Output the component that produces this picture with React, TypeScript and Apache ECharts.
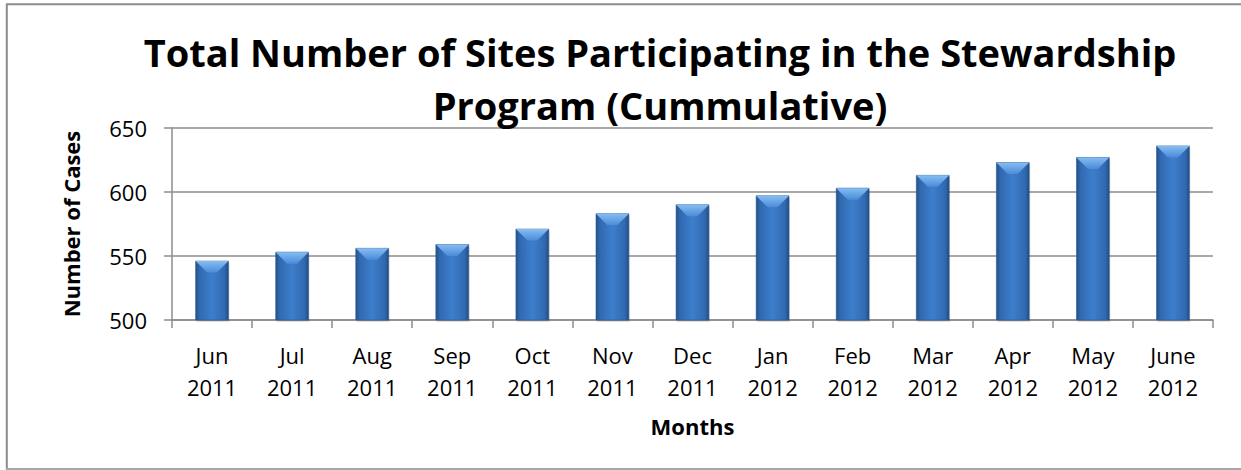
import React, { useEffect, useRef } from "react";
import * as echarts from "echarts";

const categories = [
  "Jun\n2011", "Jul\n2011", "Aug\n2011", "Sep\n2011", "Oct\n2011", "Nov\n2011",
  "Dec\n2011", "Jan\n2012", "Feb\n2012", "Mar\n2012", "Apr\n2012", "May\n2012", "June\n2012",
];
const siteCounts = [546, 553, 556, 559, 571, 583, 590, 597, 603, 613, 623, 627, 636];
const yMin = 500;
const yMax = 650;
const yInterval = 50;

const titleText = "Total Number of Sites Participating in the Stewardship\nProgram (Cummulative)";
const xAxisName = "Months";
const yAxisName = "Number of Cases";

const FONT = "'Open Sans', 'Noto Sans', sans-serif";
const GRAY = "#8C8C8C";

export default function App() {
  const ref = useRef<HTMLDivElement>(null);

  useEffect(() => {
    if (!ref.current) return;
    const chart = echarts.init(ref.current, undefined, { renderer: "svg" });

    const bodyFill = new echarts.graphic.LinearGradient(0, 0, 1, 0, [
      { offset: 0, color: "#24508A" },
      { offset: 0.12, color: "#3169B0" },
      { offset: 0.5, color: "#3D7ECC" },
      { offset: 0.88, color: "#3169B0" },
      { offset: 1, color: "#224C84" },
    ]);
    const bevelFill = new echarts.graphic.LinearGradient(0, 0, 0, 1, [
      { offset: 0, color: "#86BDF2" },
      { offset: 1, color: "#4A8BD8" },
    ]);

    chart.setOption({
      animation: false,
      backgroundColor: "#ffffff",
      title: {
        text: titleText,
        left: 655,
        top: 20,
        textAlign: "center",
        textStyle: {
          fontFamily: FONT,
          fontWeight: "bold",
          fontSize: 38,
          lineHeight: 53,
          color: "#000000",
        },
      },
      graphic: [
        { type: "line", shape: { x1: 6.8, y1: 4.3, x2: 6.8, y2: 470 }, style: { stroke: GRAY, lineWidth: 2 } },
        { type: "line", shape: { x1: 6, y1: 4.3, x2: 1241, y2: 4.3 }, style: { stroke: GRAY, lineWidth: 2 } },
        { type: "line", shape: { x1: 6, y1: 469, x2: 1241, y2: 469 }, style: { stroke: "#A6A6A6", lineWidth: 2 } },
      ],
      grid: { left: 172, right: 28, top: 128, bottom: 150, containLabel: false },
      xAxis: {
        type: "category",
        data: categories,
        name: xAxisName,
        nameLocation: "middle",
        nameGap: 95,
        nameTextStyle: { fontFamily: FONT, fontWeight: "bold", fontSize: 22, color: "#000" },
        axisLine: { show: true, lineStyle: { color: GRAY, width: 1.5 } },
        axisTick: { show: true, length: 8, interval: 0, lineStyle: { color: GRAY, width: 1.5 } },
        axisLabel: {
          interval: 0,
          margin: 19,
          fontFamily: FONT,
          fontSize: 22,
          lineHeight: 32,
          color: "#000",
        },
        splitLine: { show: false },
      },
      yAxis: {
        type: "value",
        min: yMin,
        max: yMax,
        interval: yInterval,
        name: yAxisName,
        nameLocation: "middle",
        nameGap: 90,
        nameRotate: 90,
        nameTextStyle: { fontFamily: FONT, fontWeight: "bold", fontSize: 22, color: "#000" },
        axisLine: { show: true, lineStyle: { color: GRAY, width: 1.5 } },
        axisTick: { show: true, length: 8, lineStyle: { color: GRAY, width: 1.5 } },
        axisLabel: { margin: 25, fontFamily: FONT, fontSize: 22, color: "#000" },
        splitLine: { show: true, lineStyle: { color: GRAY, width: 1.5 } },
      },
      series: [
        {
          type: "custom",
          name: "Sites",
          data: siteCounts.map((v, i) => [i, v]),
          encode: { x: 0, y: 1 },
          renderItem: (params: any, api: any) => {
            const idx = api.value(0);
            const val = api.value(1);
            const top = api.coord([idx, val]);
            const base = api.coord([idx, yMin]);
            const w = api.size([1, 0])[0] * 0.41;
            const x = top[0] - w / 2;
            const y = top[1];
            const h = base[1] - top[1];
            const b = Math.min(12, w * 0.35, h / 2);
            return {
              type: "group",
              children: [
                {
                  type: "rect",
                  shape: { x: x + 1, y: y + 2, width: w, height: h },
                  style: { fill: "rgba(0,0,0,0.12)" },
                },
                {
                  type: "rect",
                  shape: { x, y, width: w, height: h },
                  style: { fill: bodyFill, stroke: "#2A5A96", lineWidth: 0.6 },
                },
                {
                  type: "polygon",
                  shape: {
                    points: [
                      [x, y],
                      [x + w, y],
                      [x + w - b, y + b],
                      [x + b, y + b],
                    ],
                  },
                  style: { fill: bevelFill },
                },
              ],
            };
          },
        },
      ],
    });

    return () => chart.dispose();
  }, []);

  return (
    <div
      ref={ref}
      style={{ position: "fixed", left: 0, top: 0, width: 1241, height: 470, background: "#fff" }}
    />
  );
}
